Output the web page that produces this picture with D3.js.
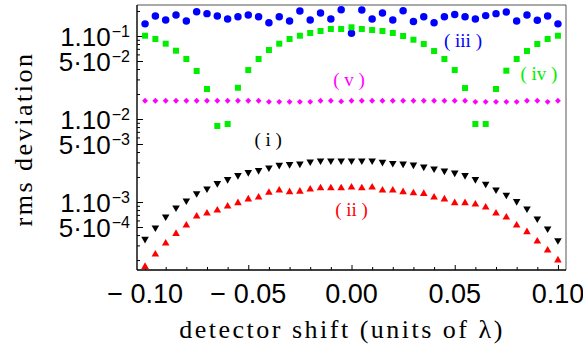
<!DOCTYPE html>
<html>
<head>
<meta charset="utf-8">
<script src="https://cdn.jsdelivr.net/npm/d3@7"></script>
<style>
  html, body { margin: 0; padding: 0; background: #fff; }
  svg { display: block; font-family: "Liberation Serif", "Times New Roman", serif; }
</style>
</head>
<body>
<svg id="chart" width="583" height="352"></svg>
<script>
// detector shift (units of lambda)
const shifts = [
  -0.100, -0.095, -0.090, -0.085, -0.080, -0.075, -0.070, -0.065, -0.060, -0.055,
  -0.050, -0.045, -0.040, -0.035, -0.030, -0.025, -0.020, -0.015, -0.010, -0.005,
   0.000,  0.005,  0.010,  0.015,  0.020,  0.025,  0.030,  0.035,  0.040,  0.045,
   0.050,  0.055,  0.060,  0.065,  0.070,  0.075,  0.080,  0.085,  0.090,  0.095,
   0.100
];

// rms deviation for each case
const rmsI = [
  3.58e-4, 4.90e-4, 6.65e-4, 8.54e-4, 1.04e-3, 1.27e-3, 1.45e-3, 1.68e-3, 1.88e-3, 2.10e-3,
  2.28e-3, 2.41e-3, 2.59e-3, 2.79e-3, 2.85e-3, 2.89e-3, 3.06e-3, 3.15e-3, 3.15e-3, 3.15e-3,
  3.15e-3, 3.15e-3, 3.15e-3, 3.03e-3, 2.94e-3, 2.89e-3, 2.81e-3, 2.66e-3, 2.52e-3, 2.38e-3,
  2.25e-3, 2.10e-3, 1.88e-3, 1.65e-3, 1.41e-3, 1.22e-3, 1.02e-3, 8.30e-4, 6.29e-4, 4.77e-4,
  3.45e-4
];
const rmsII = [
  1.66e-4, 2.34e-4, 3.18e-4, 4.15e-4, 5.24e-4, 6.73e-4, 7.31e-4, 7.95e-4, 8.88e-4, 9.73e-4,
  1.08e-3, 1.14e-3, 1.30e-3, 1.38e-3, 1.32e-3, 1.34e-3, 1.42e-3, 1.47e-3, 1.47e-3, 1.47e-3,
  1.50e-3, 1.47e-3, 1.50e-3, 1.38e-3, 1.38e-3, 1.32e-3, 1.28e-3, 1.26e-3, 1.14e-3, 1.08e-3,
  9.73e-4, 9.73e-4, 9.38e-4, 8.63e-4, 7.31e-4, 6.54e-4, 5.24e-4, 4.36e-4, 3.36e-4, 2.62e-4,
  1.99e-4
];
const rmsIII = [
  0.140, 0.174, 0.156, 0.179, 0.152, 0.196, 0.186, 0.174, 0.160, 0.171,
  0.179, 0.171, 0.144, 0.171, 0.152, 0.200, 0.156, 0.189, 0.160, 0.207,
  0.108, 0.206, 0.160, 0.189, 0.156, 0.202, 0.150, 0.171, 0.144, 0.171,
  0.181, 0.171, 0.160, 0.176, 0.186, 0.195, 0.152, 0.179, 0.155, 0.174,
  0.140
];
const rmsIV = [
  0.1008, 0.0920, 0.0808, 0.0665, 0.0528, 0.0379, 0.0230, 0.00824, 0.00871, 0.0238,
  0.0389, 0.0528, 0.0678, 0.0808, 0.0920, 0.1008, 0.1087, 0.1148, 0.1214, 0.1214,
  0.1273, 0.1214, 0.1180, 0.1148, 0.1087, 0.1000, 0.0902, 0.0801, 0.0659, 0.0528,
  0.0389, 0.0236, 0.00871, 0.00871, 0.0230, 0.0382, 0.0528, 0.0659, 0.0801, 0.0920,
  0.1008
];
const rmsV = [
  0.0166, 0.0166, 0.0166, 0.0166, 0.0166, 0.0166, 0.0166, 0.0166, 0.0166, 0.0166,
  0.0166, 0.0166, 0.0161, 0.0161, 0.0161, 0.0161, 0.0161, 0.0166, 0.0166, 0.0163,
  0.0166, 0.0166, 0.0166, 0.0166, 0.0166, 0.0166, 0.0166, 0.0166, 0.0166, 0.0166,
  0.0166, 0.0166, 0.0161, 0.0161, 0.0161, 0.0161, 0.0161, 0.0166, 0.0166, 0.0161,
  0.0166
];

// x tick labels and y tick labels (mantissa, exponent)
const xTickValues = [-0.10, -0.05, 0.00, 0.05, 0.10];
const xTickLabels = ["\u2212 0.10", "\u2212 0.05", "0.00", "0.05", "0.10"];
const yTickValues = [1e-1, 5e-2, 1e-2, 5e-3, 1e-3, 5e-4];
const yTickMantissa = ["1.10", "5\u00b710", "1.10", "5\u00b710", "1.10", "5\u00b710"];
const yTickExponent = ["\u22121", "\u22122", "\u22122", "\u22123", "\u22123", "\u22124"];

const series = [
  { name: "( i )",   values: rmsI,   color: "#000000", symbol: "down",    label: [-0.0404, 4.73e-3] },
  { name: "( ii )",  values: rmsII,  color: "#ff0000", symbol: "up",      label: [0.0000, 6.78e-4] },
  { name: "( iii )", values: rmsIII, color: "#0000ff", symbol: "circle",  label: [0.0540, 7.37e-2] },
  { name: "( iv )",  values: rmsIV,  color: "#00ee00", symbol: "square",  label: [0.0908, 2.95e-2] },
  { name: "( v )",   values: rmsV,   color: "#ff00ff", symbol: "diamond", label: [-0.0012, 2.50e-2] }
];

const svg = d3.select("#chart");
const plot = { left: 137, right: 566, top: 5, bottom: 270 };

const x = d3.scaleLinear().domain([-0.1039, 0.1039]).range([plot.left, plot.right]);
const y = d3.scaleLog().domain([1.517e-4, 0.2363]).range([plot.bottom, plot.top]);

// marker shapes
const symbolFor = {
  circle:  d3.symbol().type(d3.symbolCircle).size(44),
  square:  d3.symbol().type(d3.symbolSquare).size(36),
  diamond: d3.symbol().type(d3.symbolSquare).size(17),
  up:      d3.symbol().type(d3.symbolTriangle).size(25),
  down:    d3.symbol().type(d3.symbolTriangle).size(25)
};
const markerRotation = { down: " rotate(180)", diamond: " rotate(45)" };

// frame
svg.append("line").attr("x1", plot.left).attr("x2", plot.right).attr("y1", plot.top).attr("y2", plot.top)
  .attr("stroke", "#555").attr("stroke-width", 1);
svg.append("line").attr("x1", plot.right).attr("x2", plot.right).attr("y1", plot.top).attr("y2", plot.bottom)
  .attr("stroke", "#555").attr("stroke-width", 1);

// bottom axis: inward ticks every 0.01, longer every 0.05
const xMinor = d3.range(-10, 11).map(k => k / 100);
const xAxis = d3.axisBottom(x).tickValues(xMinor)
  .tickSizeInner(-3).tickSizeOuter(0).tickFormat("");
const gx = svg.append("g").attr("transform", `translate(0,${plot.bottom})`).call(xAxis);
gx.select(".domain").attr("stroke", "#000").attr("stroke-width", 1.4)
  .attr("d", `M${plot.left},0H${plot.right}`);
gx.selectAll(".tick line")
  .attr("y2", d => (Math.abs(Math.round(d * 100)) % 5 === 0) ? -5 : -3)
  .attr("stroke", "#000");

gx.selectAll(".xlabel").data(xTickValues).join("text")
  .attr("class", "xlabel")
  .attr("x", d => x(d))
  .attr("y", 33)
  .attr("text-anchor", "middle")
  .attr("font-size", 27)
  .attr("fill", "#000")
  .text((d, i) => xTickLabels[i]);

// left axis: log ticks 1..9 per decade, labelled at 1 and 5
const yMinor = [];
for (let e = -4; e <= 0; e++) for (let m = 1; m <= 9; m++) {
  const v = m * Math.pow(10, e);
  if (v >= y.domain()[0] && v <= y.domain()[1]) yMinor.push(v);
}
const yAxis = d3.axisLeft(y).tickValues(yMinor)
  .tickSizeInner(-3).tickSizeOuter(0).tickFormat("");
const gy = svg.append("g").attr("transform", `translate(${plot.left},0)`).call(yAxis);
gy.select(".domain").attr("stroke", "#000").attr("stroke-width", 1.4)
  .attr("d", `M0,${plot.top}V${plot.bottom}`);
gy.selectAll(".tick line")
  .attr("x2", d => yTickValues.some(t => Math.abs(t - d) / t < 1e-6) ? 6 : 3)
  .attr("stroke", "#000");

const ylab = gy.selectAll(".ylabel").data(yTickValues).join("text")
  .attr("class", "ylabel")
  .attr("x", -7)
  .attr("y", d => y(d) + 10)
  .attr("text-anchor", "end")
  .attr("font-size", 26)
  .attr("fill", "#000");
ylab.append("tspan").text((d, i) => yTickMantissa[i]);
ylab.append("tspan").attr("dx", 1).attr("dy", -9).attr("font-size", 16)
  .text((d, i) => yTickExponent[i]);

// data markers
series.forEach(s => {
  svg.append("g").selectAll("path").data(s.values).join("path")
    .attr("d", symbolFor[s.symbol])
    .attr("transform", (d, i) =>
      `translate(${x(shifts[i])},${y(d)})` + (markerRotation[s.symbol] || ""))
    .attr("fill", s.color);
});

// series annotations
svg.append("g").selectAll("text").data(series).join("text")
  .attr("x", d => x(d.label[0]))
  .attr("y", d => y(d.label[1]))
  .attr("text-anchor", "middle")
  .attr("font-size", 19)
  .attr("fill", d => d.color)
  .text(d => d.name);

// axis titles
svg.append("text")
  .attr("x", 342)
  .attr("y", 338)
  .attr("text-anchor", "middle")
  .attr("font-size", 26)
  .attr("letter-spacing", 2.5)
  .text("detector shift (units of \u03bb)");

svg.append("text")
  .attr("transform", "translate(32,139) rotate(-90)")
  .attr("text-anchor", "middle")
  .attr("font-size", 26)
  .attr("letter-spacing", 2.5)
  .text("rms deviation");
</script>
</body>
</html>
